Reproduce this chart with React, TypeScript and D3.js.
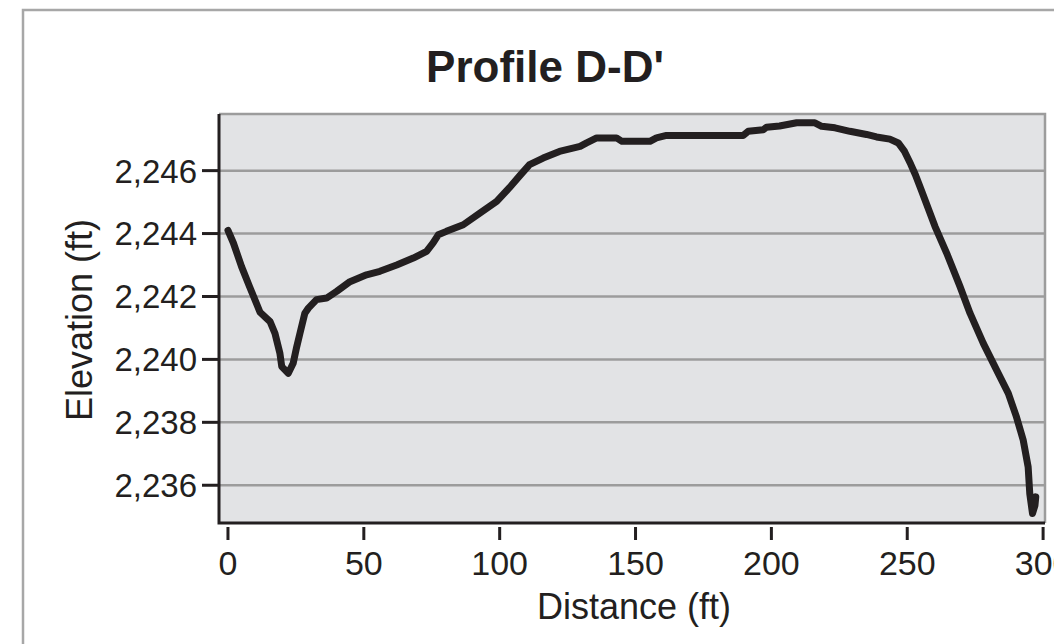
import React, { useEffect, useRef } from "react";
import * as d3 from "d3";

// Profile readings: distance along the section (ft) and ground elevation (ft)
const distance = [
  0, 2, 5, 8, 11.8, 15.5, 17.3, 19.1, 19.8, 22.2, 24, 25.3, 26.5, 28.3, 29.6,
  32.6, 36.3, 40, 44.9, 51, 55.9, 62.1, 68.2, 73.1, 75.5, 77.4, 80.4, 86.6,
  92.7, 98.9, 103.5, 107.5, 111, 116, 122, 129.6, 132, 135.7, 143, 145, 155.3,
  157.7, 161.4, 189.6, 191.5, 197, 198.2, 203, 209.3, 216, 218.5, 223.4, 228.9,
  235, 238.7, 243.6, 246.7, 249, 251.3, 253, 255.3, 260.2, 264.5, 269.4, 273.1,
  278, 282.9, 287.2, 290.2, 292.7, 294.5, 295.1, 296.1, 297, 297.3,
];
const elevation = [
  2244.1, 2243.7, 2242.95, 2242.3, 2241.5, 2241.2, 2240.83, 2240.2, 2239.77,
  2239.56, 2239.88, 2240.4, 2240.83, 2241.47, 2241.63, 2241.9, 2241.95, 2242.16,
  2242.47, 2242.69, 2242.8, 2243.0, 2243.22, 2243.43, 2243.7, 2243.96, 2244.07,
  2244.28, 2244.65, 2245.02, 2245.45, 2245.85, 2246.19, 2246.4, 2246.61,
  2246.77, 2246.88, 2247.04, 2247.04, 2246.93, 2246.93, 2247.04, 2247.12,
  2247.12, 2247.25, 2247.3, 2247.38, 2247.42, 2247.52, 2247.52, 2247.41,
  2247.36, 2247.25, 2247.15, 2247.07, 2247.0, 2246.88, 2246.61, 2246.2, 2245.87,
  2245.35, 2244.23, 2243.38, 2242.32, 2241.47, 2240.51, 2239.66, 2238.92,
  2238.17, 2237.43, 2236.58, 2235.73, 2235.1, 2235.36, 2235.63,
];
const xTicks = [0, 50, 100, 150, 200, 250, 300];
const yTicks = [2236, 2238, 2240, 2242, 2244, 2246];

const title = "Profile D-D'";
const xLabel = "Distance (ft)";
const yLabel = "Elevation (ft)";

export default function App() {
  const ref = useRef<SVGSVGElement>(null);

  useEffect(() => {
    const svg = d3.select(ref.current);
    svg.selectAll("*").remove();

    const width = 1054;
    const height = 644;
    const left = 219;
    const right = 1045;
    const top = 114;
    const bottom = 523;
    const font = "Arial, 'Liberation Sans', Helvetica, sans-serif";

    const x = d3.scaleLinear().domain([-3.3, 300.7]).range([left, right]);
    const y = d3.scaleLinear().domain([2234.8, 2247.8]).range([bottom, top]);

    // outer frame
    svg
      .append("path")
      .attr("d", `M23,${height} L23,10 L${width},10`)
      .attr("fill", "none")
      .attr("stroke", "#a7a7a7")
      .attr("stroke-width", 2.5);

    // title
    svg
      .append("text")
      .attr("x", 545)
      .attr("y", 82)
      .attr("text-anchor", "middle")
      .attr("font-family", font)
      .attr("font-weight", "bold")
      .attr("font-size", 44)
      .attr("fill", "#231f20")
      .text(title);

    // plot background
    svg
      .append("rect")
      .attr("x", left)
      .attr("y", top)
      .attr("width", right - left)
      .attr("height", bottom - top)
      .attr("fill", "#e2e3e5");

    // gridlines
    svg
      .append("g")
      .selectAll("line")
      .data(yTicks)
      .join("line")
      .attr("x1", left)
      .attr("x2", right)
      .attr("y1", (d) => y(d))
      .attr("y2", (d) => y(d))
      .attr("stroke", "#9c9c9c")
      .attr("stroke-width", 2.5);

    // top and right border (grey)
    svg
      .append("path")
      .attr("d", `M${left},${top} L${right},${top} L${right},${bottom}`)
      .attr("fill", "none")
      .attr("stroke", "#9c9c9c")
      .attr("stroke-width", 2.5);

    // profile line
    const pts = distance.map((d, i) => [d, elevation[i]] as [number, number]);
    const line = d3
      .line<[number, number]>()
      .x((d) => x(d[0]))
      .y((d) => y(d[1]));
    svg
      .append("path")
      .datum(pts)
      .attr("d", line)
      .attr("fill", "none")
      .attr("stroke", "#231f20")
      .attr("stroke-width", 7)
      .attr("stroke-linejoin", "round")
      .attr("stroke-linecap", "round");

    // left and bottom axis lines
    svg
      .append("path")
      .attr("d", `M${left},${top} L${left},${bottom} L${right},${bottom}`)
      .attr("fill", "none")
      .attr("stroke", "#231f20")
      .attr("stroke-width", 3);

    // y ticks + labels
    const yg = svg.append("g");
    yg.selectAll("line")
      .data(yTicks)
      .join("line")
      .attr("x1", left - 17)
      .attr("x2", left)
      .attr("y1", (d) => y(d))
      .attr("y2", (d) => y(d))
      .attr("stroke", "#231f20")
      .attr("stroke-width", 3);
    yg.selectAll("text")
      .data(yTicks)
      .join("text")
      .attr("x", left - 22)
      .attr("y", (d) => y(d))
      .attr("dy", "0.36em")
      .attr("text-anchor", "end")
      .attr("font-family", font)
      .attr("font-size", 33)
      .attr("fill", "#231f20")
      .text((d) => d3.format(",")(d));

    // x ticks + labels
    const xg = svg.append("g");
    xg.selectAll("line")
      .data(xTicks)
      .join("line")
      .attr("x1", (d) => x(d))
      .attr("x2", (d) => x(d))
      .attr("y1", bottom + 4)
      .attr("y2", bottom + 17)
      .attr("stroke", "#231f20")
      .attr("stroke-width", 3);
    xg.selectAll("text")
      .data(xTicks)
      .join("text")
      .attr("x", (d) => x(d))
      .attr("y", 575)
      .attr("text-anchor", "middle")
      .attr("font-family", font)
      .attr("font-size", 34)
      .attr("fill", "#231f20")
      .text((d) => String(d));

    // axis titles
    svg
      .append("text")
      .attr("x", 634)
      .attr("y", 619)
      .attr("text-anchor", "middle")
      .attr("font-family", font)
      .attr("font-size", 36)
      .attr("fill", "#231f20")
      .text(xLabel);
    svg
      .append("text")
      .attr("transform", "translate(92,320) rotate(-90)")
      .attr("text-anchor", "middle")
      .attr("font-family", font)
      .attr("font-size", 36)
      .attr("fill", "#231f20")
      .text(yLabel);
  }, []);

  return (
    <svg
      ref={ref}
      width={1054}
      height={644}
      style={{ position: "absolute", left: 0, top: 0, background: "#fff" }}
    ></svg>
  );
}
